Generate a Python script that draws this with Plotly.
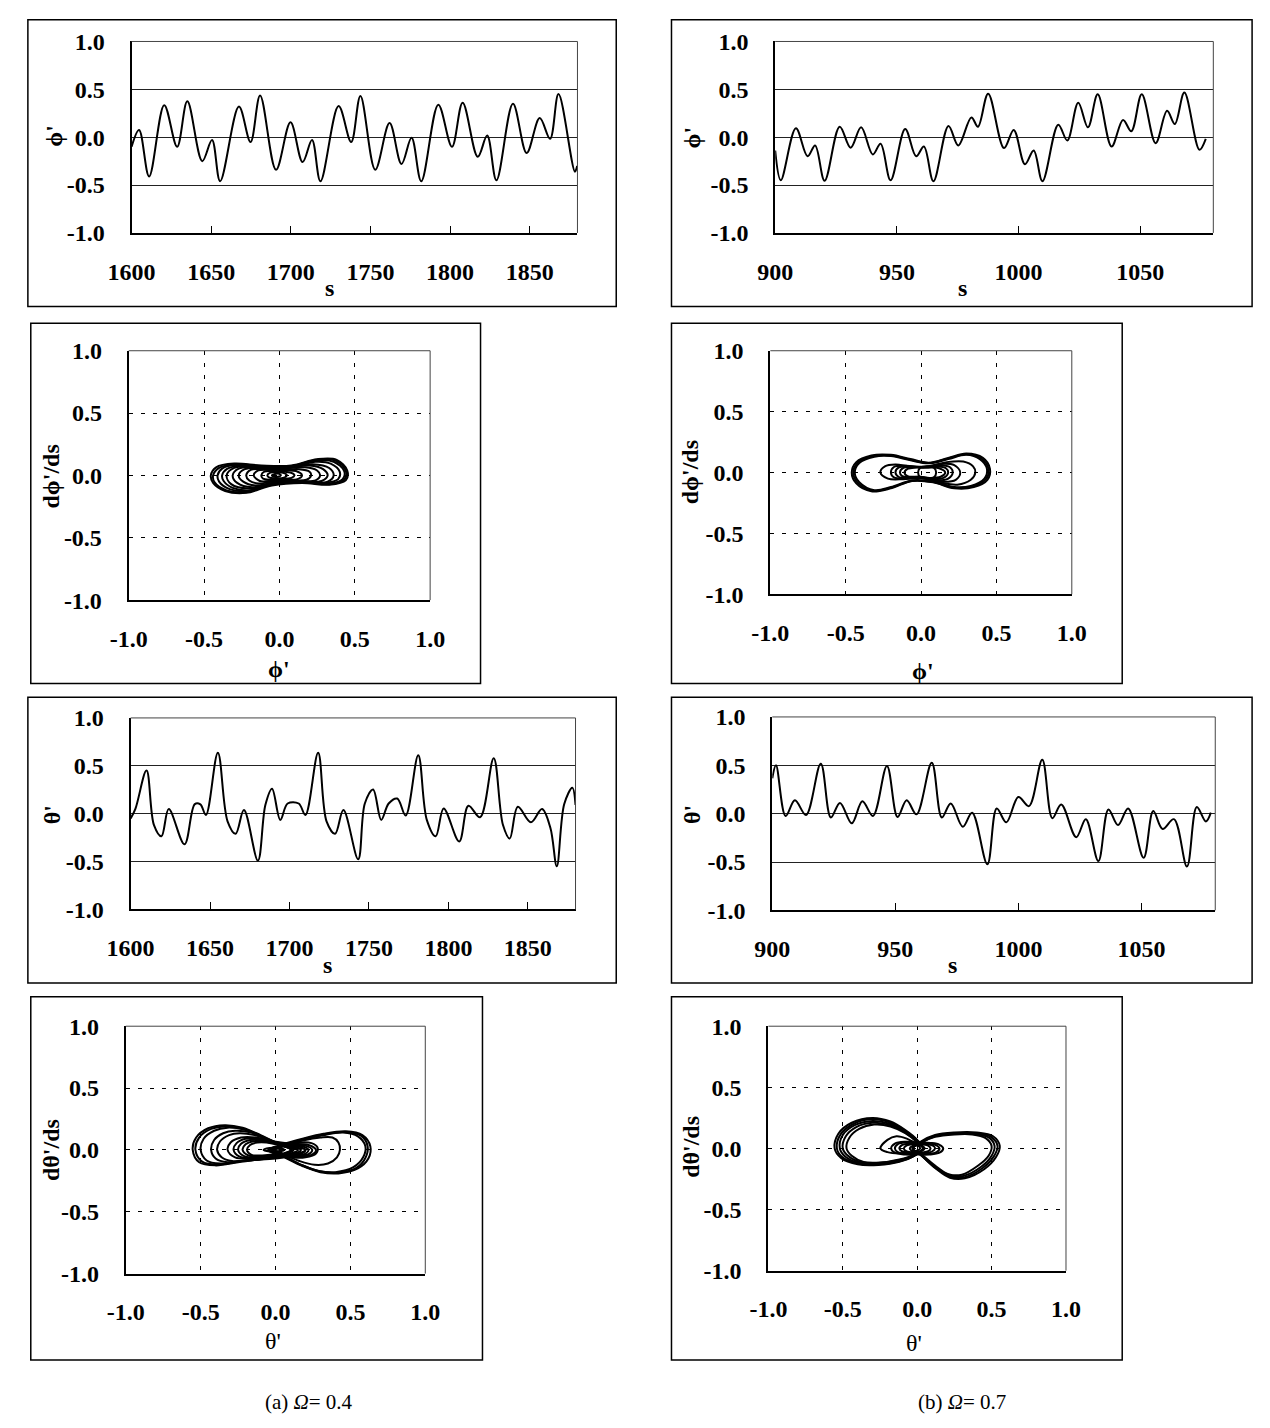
import plotly.graph_objects as go

# ---------------- DATA ----------------
# Row 1: phi' time series
S_PHI_A = [1600, 1604.7, 1611, 1620.5, 1628.6, 1635, 1644.4, 1650.5, 1655.6, 1667.4, 1674.7, 1680.7,
           1690.7, 1699.8, 1707.4, 1713.3, 1718.6, 1730, 1737.9, 1743.7, 1753, 1762, 1769.5, 1775.8,
           1781.9, 1792.6, 1801.2, 1807.9, 1817.4, 1823.3, 1829.1, 1839.5, 1848.1, 1856.3, 1862.8,
           1868.1, 1878.4, 1879.8]
V_PHI_A = [-0.10, 0.075, -0.41, 0.335, -0.10, 0.375, -0.25, -0.03, -0.46, 0.32, -0.05, 0.435,
           -0.34, 0.155, -0.26, -0.03, -0.46, 0.325, -0.05, 0.43, -0.34, 0.147, -0.28, -0.007,
           -0.46, 0.34, -0.10, 0.36, -0.205, 0.017, -0.45, 0.35, -0.165, 0.20, -0.017,
           0.45, -0.36, -0.30]

S_PHI_B = [900, 902.3, 908.5, 913.3, 916.4, 920.3, 926.5, 931, 935.3, 940.1, 943.3, 947.4, 953.4,
           957.9, 961.1, 965, 971.2, 975.2, 980.6, 983.3, 987.5, 994, 998, 1002.6, 1006.2, 1009.8,
           1016.3, 1020, 1024.5, 1028.5, 1032.5, 1038.2, 1042.9, 1046.3, 1050.6, 1056.3, 1061,
           1064.2, 1068.1, 1074.3, 1076.9]
V_PHI_B = [-0.14, -0.45, 0.093, -0.20, -0.086, -0.455, 0.11, -0.11, 0.103, -0.18, -0.069, -0.45, 0.086,
           -0.20, -0.097, -0.46, 0.117, -0.086, 0.207, 0.11, 0.455, -0.114, 0.076, -0.283, -0.138, -0.46,
           0.131, -0.034, 0.36, 0.103, 0.448, -0.097, 0.18, 0.062, 0.448, -0.062, 0.276,
           0.138, 0.466, -0.131, -0.017]

# Row 3: theta' time series
S_TH_A = [1600, 1603, 1610, 1614.7, 1619.4, 1624, 1633.9, 1640.4, 1643.9, 1647.4, 1654.9, 1661, 1666.1,
          1671.3, 1680.1, 1684.8, 1689, 1694.2, 1698.8, 1705.8, 1710, 1718, 1723.3, 1728.7, 1733.9,
          1743.2, 1747.4, 1752.6, 1757.7, 1762.4, 1767.8, 1773.1, 1781, 1786.4, 1792, 1797, 1806.8,
          1812.6, 1819.9, 1828.5, 1834.3, 1838.6, 1843.7, 1851.9, 1858.9, 1864.2, 1868.2, 1872.9,
          1878, 1880]
V_TH_A = [-0.05, 0.05, 0.45, -0.12, -0.236, 0.048, -0.32, 0.10, 0.097, -0.014, 0.637, -0.08, -0.21,
          0.038, -0.49, 0.09, 0.26, -0.065, 0.106, 0.106, -0.014, 0.637, -0.08, -0.21, 0.038,
          -0.476, 0.106, 0.253, -0.065, 0.106, 0.158, -0.02, 0.61, -0.065, -0.236, 0.055, -0.29,
          0.082, -0.038, 0.58, -0.116, -0.26, 0.072, -0.09, 0.048, -0.15, -0.55, 0.10,
          0.27, 0.09]

S_TH_B = [900, 901.5, 905.4, 909.2, 913.7, 919.7, 923.8, 927.5, 932.3, 936.6, 940.9, 946.6, 950.9,
          954.6, 958.6, 964.8, 968.9, 972.5, 977.4, 981.2, 987.4, 991.2, 995.1, 1000, 1004.3,
          1009.7, 1013.8, 1017.4, 1023.5, 1027.4, 1032.5, 1036.6, 1040.5, 1044.6, 1050.9, 1054.8,
          1058.6, 1063.2, 1068.5, 1072.5, 1076.2, 1078.2]
V_TH_B = [0.365, 0.50, -0.024, 0.139, -0.014, 0.517, -0.04, 0.111, -0.10, 0.128, -0.024, 0.493, -0.034,
          0.139, -0.007, 0.527, -0.04, 0.105, -0.135, 0.01, -0.524, 0.054, -0.09, 0.172, 0.078,
          0.557, -0.047, 0.095, -0.243, -0.057, -0.49, 0.044, -0.118, 0.054, -0.456, 0.027,
          -0.159, -0.057, -0.547, 0.068, -0.081, 0.01]

# Row 2: phase portrait phi' vs dphi'/ds  (each loop: list of (phi', dphi'/ds))
PHASE_PHI_A = [
    [(-0.455, 0.0), (-0.42, 0.065), (-0.3, 0.095), (-0.12, 0.08), (0.08, 0.08), (0.25, 0.13), (0.38, 0.125),
     (0.45, 0.04), (0.44, -0.04), (0.33, -0.075), (0.15, -0.06), (-0.05, -0.08), (-0.22, -0.14),
     (-0.36, -0.125), (-0.44, -0.06), (-0.455, 0.0)],
    [(-0.44, 0.0), (-0.4, 0.06), (-0.29, 0.09), (-0.12, 0.075), (0.08, 0.075), (0.25, 0.125), (0.37, 0.12),
     (0.44, 0.04), (0.43, -0.035), (0.33, -0.07), (0.15, -0.055), (-0.05, -0.075), (-0.22, -0.135),
     (-0.35, -0.12), (-0.43, -0.055), (-0.44, 0.0)],
    [(-0.41, 0.0), (-0.38, 0.055), (-0.28, 0.085), (-0.12, 0.07), (0.08, 0.07), (0.25, 0.12), (0.36, 0.11),
     (0.43, 0.035), (0.42, -0.03), (0.33, -0.065), (0.15, -0.05), (-0.05, -0.07), (-0.21, -0.125),
     (-0.33, -0.11), (-0.4, -0.05), (-0.41, 0.0)],
    [(-0.38, 0.0), (-0.35, 0.05), (-0.25, 0.08), (-0.1, 0.068), (0.08, 0.068), (0.24, 0.11), (0.34, 0.095),
     (0.40, 0.03), (0.39, -0.03), (0.3, -0.06), (0.14, -0.05), (-0.05, -0.07), (-0.2, -0.12),
     (-0.31, -0.1), (-0.37, -0.045), (-0.38, 0.0)],
    [(-0.35, 0.0), (-0.30, 0.06), (-0.15, 0.07), (0.05, 0.065), (0.22, 0.09), (0.33, 0.06), (0.36, 0.0),
     (0.32, -0.05), (0.15, -0.055), (-0.05, -0.07), (-0.2, -0.105), (-0.32, -0.07), (-0.35, 0.0)],
    [(-0.31, 0.0), (-0.27, 0.055), (-0.14, 0.065), (0.04, 0.06), (0.2, 0.08), (0.29, 0.05), (0.32, 0.0),
     (0.28, -0.045), (0.13, -0.05), (-0.05, -0.065), (-0.18, -0.095), (-0.28, -0.06), (-0.31, 0.0)],
    [(-0.27, 0.0), (-0.23, 0.05), (-0.12, 0.06), (0.03, 0.055), (0.17, 0.065), (0.25, 0.04), (0.27, 0.0),
     (0.24, -0.04), (0.1, -0.045), (-0.05, -0.06), (-0.16, -0.08), (-0.24, -0.05), (-0.27, 0.0)],
    [(-0.22, 0.0), (-0.19, 0.045), (-0.1, 0.05), (0.02, 0.045), (0.13, 0.05), (0.2, 0.03), (0.21, 0.0),
     (0.18, -0.035), (0.07, -0.04), (-0.05, -0.05), (-0.14, -0.065), (-0.2, -0.04), (-0.22, 0.0)],
    [(-0.17, 0.0), (-0.14, 0.04), (-0.07, 0.045), (0.02, 0.04), (0.11, 0.035), (0.15, 0.0), (0.12, -0.03),
     (0.03, -0.035), (-0.07, -0.045), (-0.13, -0.045), (-0.17, 0.0)],
    [(-0.12, 0.0), (-0.1, 0.03), (-0.04, 0.035), (0.04, 0.03), (0.09, 0.015), (0.10, 0.0), (0.08, -0.02),
     (0.0, -0.03), (-0.07, -0.035), (-0.11, -0.025), (-0.12, 0.0)],
    [(-0.08, 0.0), (-0.06, 0.022), (0.0, 0.025), (0.04, 0.015), (0.05, 0.0), (0.03, -0.018), (-0.03, -0.022),
     (-0.07, -0.015), (-0.08, 0.0)],
    [(-0.05, 0.0), (-0.03, 0.012), (0.0, 0.012), (0.01, 0.0), (-0.01, -0.01), (-0.04, -0.01), (-0.05, 0.0)],
]

PHASE_PHI_B = [
    [(-0.46, 0.0), (-0.43, 0.085), (-0.33, 0.14), (-0.2, 0.145), (-0.07, 0.11), (0.05, 0.08), (0.18, 0.12),
     (0.3, 0.155), (0.41, 0.12), (0.457, 0.03), (0.44, -0.06), (0.35, -0.12), (0.22, -0.13), (0.08, -0.08),
     (-0.06, -0.07), (-0.2, -0.13), (-0.33, -0.155), (-0.43, -0.09), (-0.46, 0.0)],
    [(-0.45, 0.0), (-0.42, 0.08), (-0.32, 0.135), (-0.2, 0.14), (-0.07, 0.105), (0.05, 0.078), (0.18, 0.115),
     (0.3, 0.15), (0.4, 0.115), (0.447, 0.03), (0.43, -0.055), (0.34, -0.115), (0.22, -0.125), (0.08, -0.078),
     (-0.06, -0.068), (-0.2, -0.125), (-0.32, -0.15), (-0.42, -0.085), (-0.45, 0.0)],
    [(-0.44, 0.0), (-0.41, 0.078), (-0.31, 0.13), (-0.2, 0.135), (-0.07, 0.1), (0.05, 0.075), (0.18, 0.11),
     (0.3, 0.145), (0.39, 0.11), (0.437, 0.03), (0.42, -0.05), (0.33, -0.11), (0.22, -0.12), (0.08, -0.075),
     (-0.06, -0.065), (-0.2, -0.12), (-0.31, -0.145), (-0.41, -0.08), (-0.44, 0.0)],
    [(-0.27, 0.0), (-0.24, 0.05), (-0.17, 0.065), (-0.07, 0.05), (0.05, 0.05), (0.17, 0.085), (0.28, 0.09),
     (0.345, 0.05), (0.36, 0.0), (0.33, -0.06), (0.24, -0.1), (0.12, -0.08), (0.0, -0.045), (-0.12, -0.055),
     (-0.22, -0.05), (-0.27, 0.0)],
    [(-0.2, 0.0), (-0.18, 0.045), (-0.1, 0.055), (0.02, 0.045), (0.13, 0.07), (0.22, 0.06), (0.26, 0.0),
     (0.23, -0.06), (0.13, -0.075), (0.02, -0.045), (-0.1, -0.05), (-0.18, -0.04), (-0.2, 0.0)],
    [(-0.17, 0.0), (-0.15, 0.04), (-0.08, 0.05), (0.02, 0.042), (0.12, 0.06), (0.19, 0.045), (0.21, 0.0),
     (0.18, -0.05), (0.1, -0.065), (0.0, -0.04), (-0.09, -0.045), (-0.15, -0.035), (-0.17, 0.0)],
    [(-0.14, 0.0), (-0.12, 0.035), (-0.06, 0.045), (0.03, 0.04), (0.11, 0.05), (0.165, 0.035), (0.18, 0.0),
     (0.155, -0.04), (0.09, -0.055), (0.0, -0.035), (-0.08, -0.04), (-0.125, -0.03), (-0.14, 0.0)],
    [(-0.11, 0.0), (-0.09, 0.03), (-0.03, 0.04), (0.05, 0.04), (0.12, 0.035), (0.16, 0.0), (0.13, -0.035),
     (0.06, -0.045), (-0.02, -0.035), (-0.09, -0.03), (-0.11, 0.0)],
    [(-0.02, 0.0), (-0.005, 0.04), (0.04, 0.052), (0.085, 0.04), (0.1, 0.0), (0.085, -0.04), (0.04, -0.052),
     (-0.005, -0.04), (-0.02, 0.0)],
]

# Row 4: phase portrait theta' vs dtheta'/ds
PHASE_TH_A = [
    [(-0.553, 0.0), (-0.53, 0.1), (-0.45, 0.175), (-0.34, 0.2), (-0.22, 0.18), (-0.1, 0.12), (0.02, 0.05),
     (0.1, 0.0), (0.05, -0.03), (-0.08, -0.07), (-0.25, -0.1), (-0.4, -0.125), (-0.51, -0.1), (-0.553, 0.0)],
    [(-0.535, 0.0), (-0.51, 0.1), (-0.43, 0.17), (-0.33, 0.19), (-0.21, 0.17), (-0.1, 0.115), (0.02, 0.045),
     (0.11, 0.0), (0.06, -0.03), (-0.08, -0.07), (-0.25, -0.095), (-0.39, -0.12), (-0.49, -0.095), (-0.535, 0.0)],
    [(-0.5, 0.0), (-0.48, 0.09), (-0.41, 0.155), (-0.32, 0.18), (-0.2, 0.16), (-0.1, 0.11), (0.03, 0.04),
     (0.12, 0.0), (0.07, -0.03), (-0.07, -0.07), (-0.24, -0.09), (-0.37, -0.11), (-0.46, -0.085), (-0.5, 0.0)],
    [(-0.43, 0.0), (-0.41, 0.08), (-0.35, 0.135), (-0.27, 0.155), (-0.16, 0.14), (-0.06, 0.09), (0.06, 0.03),
     (0.15, 0.0), (0.1, -0.03), (-0.05, -0.07), (-0.2, -0.085), (-0.32, -0.1), (-0.4, -0.07), (-0.43, 0.0)],
    [(-0.39, 0.0), (-0.37, 0.07), (-0.31, 0.12), (-0.24, 0.135), (-0.14, 0.12), (-0.04, 0.08), (0.08, 0.03),
     (0.2, 0.0), (0.14, -0.035), (0.0, -0.07), (-0.15, -0.08), (-0.29, -0.09), (-0.36, -0.06), (-0.39, 0.0)],
    [(-0.32, 0.0), (-0.3, 0.06), (-0.23, 0.1), (-0.13, 0.1), (-0.02, 0.07), (0.1, 0.05), (0.22, 0.04),
     (0.27, 0.0), (0.24, -0.04), (0.14, -0.05), (0.0, -0.055), (-0.15, -0.07), (-0.27, -0.06), (-0.32, 0.0)],
    [(-0.28, 0.0), (-0.26, 0.055), (-0.2, 0.09), (-0.11, 0.09), (-0.01, 0.065), (0.1, 0.045), (0.2, 0.035),
     (0.245, 0.0), (0.22, -0.035), (0.13, -0.045), (0.0, -0.05), (-0.13, -0.065), (-0.24, -0.055), (-0.28, 0.0)],
    [(-0.25, 0.0), (-0.23, 0.05), (-0.17, 0.08), (-0.09, 0.08), (0.0, 0.06), (0.1, 0.04), (0.18, 0.03),
     (0.22, 0.0), (0.2, -0.03), (0.12, -0.04), (0.0, -0.045), (-0.11, -0.06), (-0.21, -0.05), (-0.25, 0.0)],
    [(-0.22, 0.0), (-0.2, 0.045), (-0.15, 0.07), (-0.08, 0.07), (0.0, 0.05), (0.09, 0.035), (0.16, 0.025),
     (0.2, 0.0), (0.18, -0.025), (0.1, -0.035), (0.0, -0.04), (-0.1, -0.05), (-0.18, -0.045), (-0.22, 0.0)],
    [(-0.19, 0.0), (-0.17, 0.04), (-0.12, 0.06), (-0.06, 0.06), (0.01, 0.045), (0.08, 0.03), (0.14, 0.02),
     (0.17, 0.0), (0.15, -0.02), (0.08, -0.03), (0.0, -0.035), (-0.09, -0.045), (-0.16, -0.04), (-0.19, 0.0)],
    [(-0.08, 0.0), (-0.04, 0.015), (0.02, 0.015), (0.06, 0.0), (0.02, -0.012), (-0.04, -0.012), (-0.08, 0.0)],
    [(-0.02, 0.0), (0.01, 0.012), (0.04, 0.0), (0.01, -0.012), (-0.02, 0.0)],
    [(-0.05, 0.0), (0.05, 0.045), (0.18, 0.09), (0.32, 0.13), (0.47, 0.15), (0.58, 0.12), (0.633, 0.03),
     (0.62, -0.07), (0.55, -0.15), (0.42, -0.19), (0.3, -0.18), (0.18, -0.13), (0.06, -0.06), (-0.05, 0.0)],
    [(-0.04, 0.0), (0.05, 0.04), (0.18, 0.085), (0.32, 0.125), (0.46, 0.145), (0.57, 0.115), (0.615, 0.03),
     (0.6, -0.065), (0.54, -0.145), (0.41, -0.185), (0.3, -0.175), (0.18, -0.125), (0.06, -0.055), (-0.04, 0.0)],
    [(-0.03, 0.0), (0.06, 0.04), (0.18, 0.08), (0.32, 0.12), (0.45, 0.14), (0.55, 0.11), (0.6, 0.03),
     (0.585, -0.06), (0.52, -0.14), (0.4, -0.18), (0.29, -0.17), (0.17, -0.12), (0.06, -0.05), (-0.03, 0.0)],
    [(-0.02, 0.0), (0.06, 0.035), (0.18, 0.075), (0.3, 0.1), (0.38, 0.1), (0.42, 0.06), (0.43, 0.0),
     (0.41, -0.06), (0.35, -0.11), (0.26, -0.12), (0.16, -0.09), (0.06, -0.04), (-0.02, 0.0)],
    [(0.0, 0.0), (0.07, 0.035), (0.16, 0.06), (0.24, 0.055), (0.28, 0.02), (0.27, -0.03), (0.2, -0.06),
     (0.12, -0.06), (0.05, -0.03), (0.0, 0.0)],
]

PHASE_TH_B = [
    [(-0.555, 0.0), (-0.53, 0.12), (-0.44, 0.21), (-0.3, 0.25), (-0.18, 0.22), (-0.08, 0.15), (0.0, 0.07),
     (0.04, 0.0), (-0.02, -0.06), (-0.12, -0.11), (-0.26, -0.135), (-0.4, -0.13), (-0.51, -0.08), (-0.555, 0.0)],
    [(-0.54, 0.0), (-0.515, 0.115), (-0.43, 0.2), (-0.3, 0.24), (-0.18, 0.21), (-0.08, 0.145), (0.0, 0.065),
     (0.04, 0.0), (-0.02, -0.06), (-0.12, -0.105), (-0.26, -0.13), (-0.39, -0.125), (-0.5, -0.075), (-0.54, 0.0)],
    [(-0.52, 0.0), (-0.5, 0.11), (-0.42, 0.19), (-0.3, 0.225), (-0.18, 0.2), (-0.08, 0.14), (0.0, 0.06),
     (0.04, 0.0), (-0.02, -0.055), (-0.12, -0.1), (-0.26, -0.125), (-0.38, -0.12), (-0.48, -0.07), (-0.52, 0.0)],
    [(-0.5, 0.0), (-0.48, 0.1), (-0.41, 0.175), (-0.3, 0.21), (-0.18, 0.19), (-0.08, 0.13), (0.0, 0.055),
     (0.04, 0.0), (-0.02, -0.055), (-0.12, -0.095), (-0.26, -0.12), (-0.37, -0.115), (-0.46, -0.065), (-0.5, 0.0)],
    [(-0.475, 0.0), (-0.455, 0.09), (-0.39, 0.16), (-0.29, 0.195), (-0.18, 0.18), (-0.08, 0.125), (0.0, 0.05),
     (0.04, 0.0), (-0.02, -0.05), (-0.12, -0.09), (-0.25, -0.115), (-0.36, -0.11), (-0.44, -0.06), (-0.475, 0.0)],
    [(-0.03, 0.0), (0.03, 0.06), (0.12, 0.11), (0.25, 0.13), (0.4, 0.13), (0.51, 0.1), (0.555, 0.02),
     (0.53, -0.07), (0.45, -0.17), (0.32, -0.245), (0.22, -0.24), (0.12, -0.16), (0.03, -0.06), (-0.03, 0.0)],
    [(-0.03, 0.0), (0.03, 0.055), (0.12, 0.105), (0.25, 0.125), (0.39, 0.125), (0.495, 0.095), (0.54, 0.02),
     (0.515, -0.065), (0.44, -0.16), (0.32, -0.235), (0.22, -0.23), (0.12, -0.155), (0.03, -0.06), (-0.03, 0.0)],
    [(-0.03, 0.0), (0.03, 0.05), (0.12, 0.1), (0.25, 0.12), (0.38, 0.12), (0.48, 0.09), (0.52, 0.02),
     (0.5, -0.06), (0.43, -0.15), (0.31, -0.225), (0.22, -0.22), (0.12, -0.15), (0.03, -0.055), (-0.03, 0.0)],
    [(-0.03, 0.0), (0.03, 0.05), (0.12, 0.095), (0.25, 0.115), (0.37, 0.115), (0.46, 0.085), (0.5, 0.02),
     (0.48, -0.06), (0.41, -0.14), (0.3, -0.215), (0.21, -0.21), (0.12, -0.14), (0.03, -0.05), (-0.03, 0.0)],
    [(-0.247, 0.0), (-0.2, 0.07), (-0.14, 0.1), (-0.07, 0.08), (0.0, 0.03), (0.02, 0.0), (-0.04, -0.03),
     (-0.12, -0.04), (-0.2, -0.03), (-0.247, 0.0)],
    [(-0.175, 0.0), (-0.15, 0.04), (-0.08, 0.055), (0.0, 0.05), (0.09, 0.045), (0.15, 0.03), (0.175, 0.0),
     (0.15, -0.035), (0.08, -0.05), (0.0, -0.05), (-0.08, -0.05), (-0.15, -0.035), (-0.175, 0.0)],
    [(-0.15, 0.0), (-0.13, 0.035), (-0.07, 0.05), (0.0, 0.045), (0.08, 0.04), (0.13, 0.025), (0.15, 0.0),
     (0.13, -0.03), (0.07, -0.045), (0.0, -0.045), (-0.07, -0.045), (-0.13, -0.03), (-0.15, 0.0)],
    [(-0.12, 0.0), (-0.1, 0.03), (-0.05, 0.04), (0.01, 0.04), (0.07, 0.035), (0.11, 0.02), (0.12, 0.0),
     (0.1, -0.025), (0.05, -0.04), (0.0, -0.04), (-0.06, -0.035), (-0.1, -0.025), (-0.12, 0.0)],
    [(-0.09, 0.0), (-0.07, 0.025), (-0.03, 0.035), (0.02, 0.035), (0.07, 0.025), (0.09, 0.0), (0.07, -0.025),
     (0.02, -0.035), (-0.03, -0.035), (-0.07, -0.025), (-0.09, 0.0)],
    [(-0.05, 0.0), (-0.03, 0.02), (0.01, 0.025), (0.04, 0.015), (0.05, 0.0), (0.03, -0.02), (0.0, -0.025),
     (-0.04, -0.015), (-0.05, 0.0)],
]

# Tick labels
TS_TICKS_A = [1600, 1650, 1700, 1750, 1800, 1850]
TS_TICKS_B = [900, 950, 1000, 1050]
UNIT_TICKS = [-1.0, -0.5, 0.0, 0.5, 1.0]
UNIT_LABELS = ["-1.0", "-0.5", "0.0", "0.5", "1.0"]
CAPTIONS = ["(a) <i>Ω</i>= 0.4", "(b) <i>Ω</i>= 0.7"]

# ---------------- LAYOUT / STYLE ----------------
W, H = 1270, 1428
FONT = "Liberation Serif, Times New Roman, DejaVu Serif, serif"


def px(x):
    return x / W


def py(y):
    return 1 - y / H


fig = go.Figure()

# panel spec: (kind, plot-area px (l, r, t, b), panel box px (l, r, t, b))
panels = [
    ("ts", (111, 571, 29, 224), (4, 611, 7, 299)),
    ("ts", (775, 1227, 29, 224), (668, 1267, 7, 299)),
    ("ph", (108, 419, 344, 598), (7, 471, 316, 683)),
    ("ph", (770, 1081, 344, 592), (668, 1133, 316, 683)),
    ("ts", (110, 569, 718, 913), (4, 611, 697, 988)),
    ("ts", (772, 1229, 717, 914), (668, 1267, 697, 988)),
    ("ph", (105, 414, 1032, 1284), (7, 473, 1002, 1372)),
    ("ph", (768, 1075, 1032, 1281), (668, 1133, 1002, 1372)),
]

series = [
    (S_PHI_A, V_PHI_A, [1600, 1880], TS_TICKS_A),
    (S_PHI_B, V_PHI_B, [900, 1080], TS_TICKS_B),
    (PHASE_PHI_A, None, None, None),
    (PHASE_PHI_B, None, None, None),
    (S_TH_A, V_TH_A, [1600, 1880], TS_TICKS_A),
    (S_TH_B, V_TH_B, [900, 1080], TS_TICKS_B),
    (PHASE_TH_A, None, None, None),
    (PHASE_TH_B, None, None, None),
]

tickfont = dict(family=FONT, size=24, color="black", weight="bold")
shapes = []
for i, ((kind, (l, r, t, b), box), (d1, d2, xr, xt)) in enumerate(zip(panels, series)):
    n = i + 1
    xa = "x" if n == 1 else f"x{n}"
    ya = "y" if n == 1 else f"y{n}"
    xkey = "xaxis" if n == 1 else f"xaxis{n}"
    ykey = "yaxis" if n == 1 else f"yaxis{n}"
    if kind == "ts":
        fig.add_trace(go.Scatter(x=d1, y=d2, mode="lines", xaxis=xa, yaxis=ya,
                                 line=dict(color="black", width=2, shape="spline", smoothing=1.0),
                                 hoverinfo="skip"))
        xaxis = dict(domain=[px(l), px(r)], range=xr, anchor=ya, tickvals=xt,
                     ticktext=[str(v) for v in xt], ticks="inside", ticklen=7, tickcolor="black",
                     tickwidth=1, showgrid=False, zeroline=False, showline=True, linecolor="black",
                     linewidth=2, tickfont=tickfont, ticklabelstandoff=16, fixedrange=True)
        yaxis = dict(domain=[py(b), py(t)], range=[-1, 1], anchor=xa, tickvals=UNIT_TICKS,
                     ticktext=UNIT_LABELS, ticks="", showgrid=True, gridcolor="#222",
                     gridwidth=1, zeroline=False, showline=True, linecolor="black", linewidth=2,
                     tickfont=tickfont, ticklabelstandoff=20, fixedrange=True)
    else:
        xs, ys = [], []
        for loop in d1:
            xs += [p[0] for p in loop] + [None]
            ys += [p[1] for p in loop] + [None]
        fig.add_trace(go.Scatter(x=xs, y=ys, mode="lines", xaxis=xa, yaxis=ya,
                                 line=dict(color="black", width=2, shape="spline", smoothing=1.0),
                                 connectgaps=False, hoverinfo="skip"))
        grid = dict(showgrid=True, gridcolor="black", gridwidth=1, griddash="4px,8px")
        xaxis = dict(domain=[px(l), px(r)], range=[-1, 1], anchor=ya, tickvals=UNIT_TICKS,
                     ticktext=UNIT_LABELS, ticks="", zeroline=False, showline=True,
                     linecolor="black", linewidth=2, tickfont=tickfont, ticklabelstandoff=16,
                     fixedrange=True, **grid)
        yaxis = dict(domain=[py(b), py(t)], range=[-1, 1], anchor=xa, tickvals=UNIT_TICKS,
                     ticktext=UNIT_LABELS, ticks="", zeroline=False, showline=True,
                     linecolor="black", linewidth=2, tickfont=tickfont, ticklabelstandoff=20,
                     fixedrange=True, **grid)
    fig.update_layout(**{xkey: xaxis, ykey: yaxis})
    # thin top / right frame
    shapes.append(dict(type="line", xref=f"{xa} domain", yref=f"{ya} domain", x0=0, x1=1, y0=1, y1=1,
                       line=dict(color="#444", width=1)))
    shapes.append(dict(type="line", xref=f"{xa} domain", yref=f"{ya} domain", x0=1, x1=1, y0=0, y1=1,
                       line=dict(color="#444", width=1)))
    # panel box
    bl, br, bt, bb = box
    shapes.append(dict(type="rect", xref="paper", yref="paper", x0=px(bl), x1=px(br), y0=py(bb), y1=py(bt),
                       line=dict(color="black", width=1.5), fillcolor="rgba(0,0,0,0)"))

# axis titles (annotations): (text, x px, y px, angle, bold)
titles = [
    ("ϕ'", 31, 125, -90, True), ("s", 315, 280, 0, True),
    ("ϕ'", 689, 127, -90, True), ("s", 968, 280, 0, True),
    ("dϕ'/ds", 28, 472, -90, True), ("ϕ'", 263, 668, 0, True),
    ("dϕ'/ds", 688, 468, -90, True), ("ϕ'", 927, 670, 0, True),
    ("θ'", 29, 817, -90, True), ("s", 313, 970, 0, True),
    ("θ'", 689, 816, -90, True), ("s", 958, 970, 0, True),
    ("dθ'/ds", 28, 1158, -90, True), ("θ'", 257, 1353, 0, False),
    ("dθ'/ds", 688, 1155, -90, True), ("θ'", 918, 1355, 0, False),
]
annotations = []
for text, x, y, ang, bold in titles:
    annotations.append(dict(text=text, x=px(x), y=py(y), xref="paper", yref="paper", showarrow=False,
                            textangle=ang, xanchor="center", yanchor="middle",
                            font=dict(family=FONT, size=24, color="black",
                                      weight="bold" if bold else "normal")))
for text, x in zip(CAPTIONS, [294, 968]):
    annotations.append(dict(text=text, x=px(x), y=py(1415), xref="paper", yref="paper", showarrow=False,
                            xanchor="center", yanchor="middle",
                            font=dict(family=FONT, size=21, color="black")))

fig.update_layout(width=W, height=H, margin=dict(l=0, r=0, t=0, b=0), paper_bgcolor="white",
                  plot_bgcolor="white", showlegend=False, shapes=shapes, annotations=annotations)

fig.write_html("out.html", config={"displayModeBar": False, "staticPlot": True},
               post_script="document.body.style.margin='0px';document.body.style.overflow='hidden';")
